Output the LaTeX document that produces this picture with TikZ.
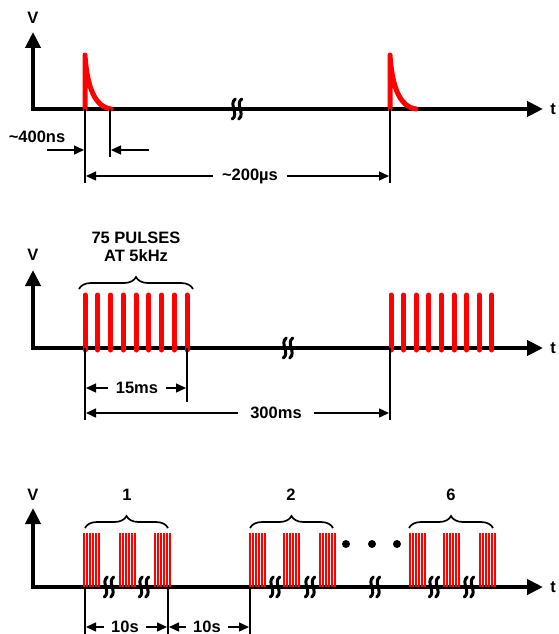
\documentclass[tikz,border=0pt]{standalone}
\usepackage{fontspec}
\setmainfont{Liberation Sans}
\usetikzlibrary{arrows.meta,decorations.pathreplacing}

\tikzset{
  lbl/.style={font=\fontsize{16.5}{18.5}\selectfont\bfseries, inner sep=0pt},
  dimlbl/.style={lbl, outer sep=9pt},
  axes/.style={line width=4.5pt, {Triangle[length=16pt,width=15pt]}-{Triangle[length=16pt,width=15pt]}},
  ext/.style={line width=1.8pt},
  dimarr/.style={line width=1.4pt, -{Triangle[length=10pt,width=9pt]}},
  pulse/.style={red, line width=5pt, line cap=round, line join=round},
  fine/.style={red, line width=2pt},
  grpbrace/.style={line width=1.7pt, decorate, decoration={brace, amplitude=12pt}},
  axbreak/.pic={\foreach \d in {-3.2,3.2} \draw[line width=3pt, line cap=round] (\d+1.5,-10) .. controls (\d-5.5,-5) and (\d+5.5,5) .. (\d-1.5,10);}
}

\begin{document}
\begin{tikzpicture}[x=1pt,y=-1pt]
  \useasboundingbox (0,0) rectangle (558,634);

  % single pulse
  \begin{scope}[shift={(0,109)}]
    \draw[axes] (33,-77) -- (33,0) -- (543,0); \node[lbl] (v1) at (33,-91) {V}; \node[lbl] (t1) at (553,0) {t};
    \foreach \x in {85,390} \draw[pulse] (\x,0) -- (\x,-54) .. controls (\x+2,-22) and (\x+10,-2) .. (\x+26,0);
    \pic at (237,0) {axbreak};
    \draw[ext] (85,0) -- (85,74); \draw[ext] (110,0) -- (110,48); \draw[ext] (390,0) -- (390,74);
    \node[lbl] (w1) at (37,28) {\textasciitilde400ns};
    \draw[dimarr] (47,41) -- (84,41); \draw[dimarr] (149,41) -- (111,41);
    \node[dimlbl] (p1) at (250,67) {\textasciitilde200µs};
    \draw[dimarr] (p1) -- (86,67); \draw[dimarr] (p1) -- (389,67);
  \end{scope}

  % pulse trains
  \begin{scope}[shift={(0,348)}]
    \draw[axes] (33,-78) -- (33,0) -- (543,0); \node[lbl] (v2) at (33,-93) {V}; \node[lbl] (t2) at (553,0) {t};
    \foreach \i in {0,...,8} { \draw[pulse] (85+12.75*\i,2) -- (85+12.75*\i,-53); \draw[pulse] (391+12.6*\i,2) -- (391+12.6*\i,-53); }
    \draw[grpbrace] (79,-59) -- (193,-59);
    \node[lbl, align=center] (n75) at (136,-101) {75 PULSES\\AT 5kHz};
    \pic at (288,0) {axbreak};
    \draw[ext] (85,0) -- (85,72); \draw[ext] (187,0) -- (187,54); \draw[ext] (390,0) -- (390,72);
    \node[dimlbl, outer sep=8pt] (w2) at (137,40) {15ms};
    \draw[dimarr] (w2) -- (86,40); \draw[dimarr] (w2) -- (186,40);
    \node[dimlbl, outer sep=12pt] (p2) at (276,65) {300ms};
    \draw[dimarr] (p2) -- (86,65); \draw[dimarr] (p2) -- (389,65);
  \end{scope}

  % groups of trains
  \begin{scope}[shift={(0,587)}]
    \draw[axes] (33,-79) -- (33,0) -- (543,0); \node[lbl] (v3) at (33,-92) {V}; \node[lbl] (t3) at (553,0) {t};
    \foreach \x in {83,119,154,249,283,319,409,443,479}
      \foreach \k in {0,...,5} \draw[fine] (\x+1+2.9*\k,0) -- (\x+1+2.9*\k,-54);
    \foreach \x in {109,144,275,310,375,434,469} \pic at (\x,0) {axbreak};
    \foreach \x in {346,372,397} \fill (\x,-43) circle (4);
    \draw[grpbrace] (85,-59) -- (168,-59); \node[lbl] (g1) at (127,-92) {1};
    \draw[grpbrace] (250,-59) -- (333,-59); \node[lbl] (g2) at (291,-92) {2};
    \draw[grpbrace] (409,-59) -- (493,-59); \node[lbl] (g6) at (451,-92) {6};
    \draw[ext] (85,0) -- (85,47); \draw[ext] (168,0) -- (168,47); \draw[ext] (250,0) -- (250,47);
    \node[dimlbl, outer sep=7pt] (s1) at (125,40) {10s};
    \draw[dimarr] (s1) -- (86,40); \draw[dimarr] (s1) -- (167,40);
    \node[dimlbl, outer sep=7pt] (s2) at (207,40) {10s};
    \draw[dimarr] (s2) -- (169,40); \draw[dimarr] (s2) -- (249,40);
  \end{scope}
\end{tikzpicture}
\end{document}
